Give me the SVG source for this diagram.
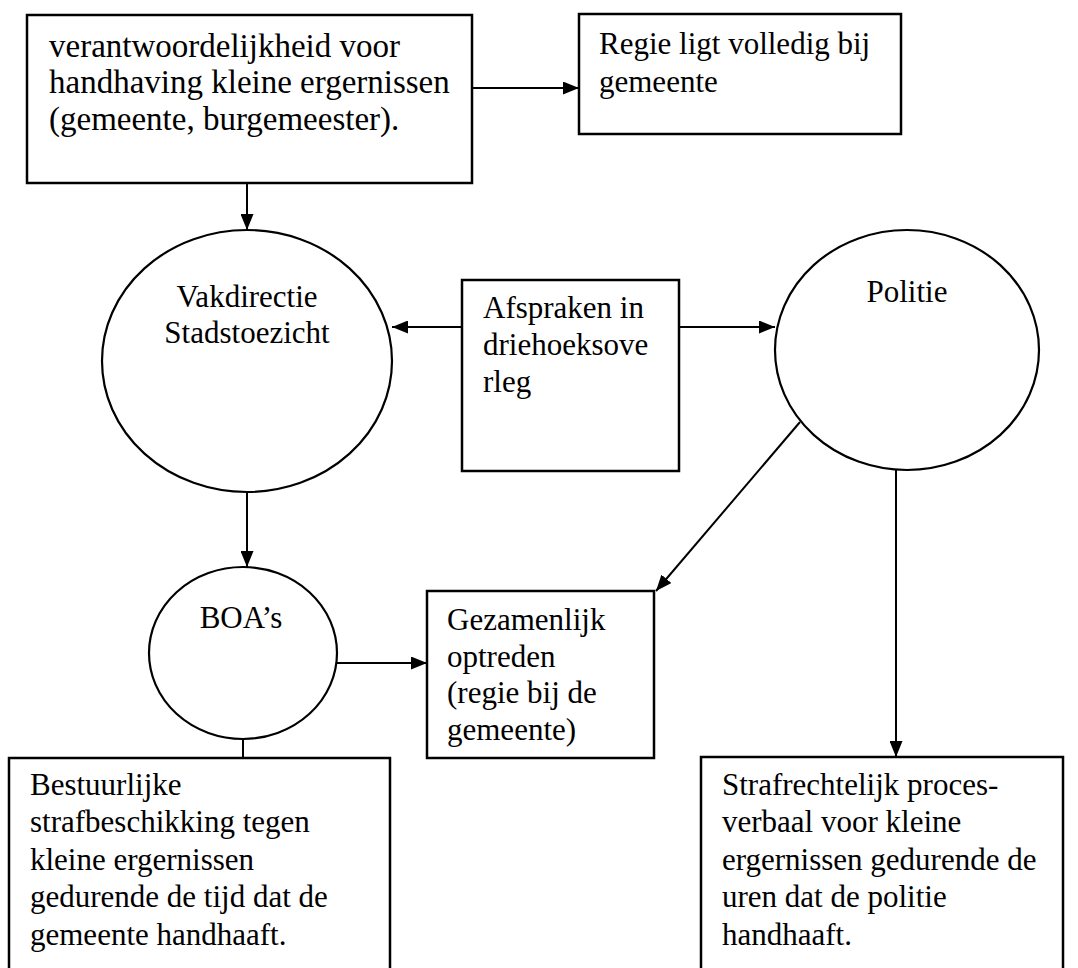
<svg xmlns="http://www.w3.org/2000/svg" width="1078" height="968" viewBox="0 0 1078 968">
<style>
.box{fill:#fff;stroke:#000;stroke-width:2.5}
.ell{fill:#fff;stroke:#000;stroke-width:2.2}
.t{font-family:"Liberation Serif","Times New Roman",serif;font-size:31px;fill:#000}
.big{font-size:33px}
.c{text-anchor:middle}
.ln{stroke:#000;stroke-width:2;fill:none}
</style>
<defs>
<marker id="ah" viewBox="0 0 16 13" refX="16" refY="6.5" markerWidth="16" markerHeight="13" markerUnits="userSpaceOnUse" orient="auto">
<path d="M0,0 L16,6.5 L0,13 Z" fill="#000"/>
</marker>
</defs>
<rect width="1078" height="968" fill="#fff"/>
<g id="connectors">
<line class="ln" x1="472" y1="88" x2="579" y2="88" marker-end="url(#ah)"/>
<line class="ln" x1="247" y1="183" x2="247" y2="230" marker-end="url(#ah)"/>
<line class="ln" x1="462" y1="327" x2="392" y2="327" marker-end="url(#ah)"/>
<line class="ln" x1="679" y1="327" x2="775" y2="327" marker-end="url(#ah)"/>
<line class="ln" x1="247" y1="492" x2="247" y2="567" marker-end="url(#ah)"/>
<line class="ln" x1="800" y1="422" x2="656" y2="591" marker-end="url(#ah)"/>
<line class="ln" x1="337" y1="663" x2="427" y2="663" marker-end="url(#ah)"/>
<line class="ln" x1="896" y1="470" x2="896" y2="757" marker-end="url(#ah)"/>
<line class="ln" x1="243" y1="739" x2="243" y2="758"/>
</g>
<g id="n-verantwoordelijkheid">
<rect class="box" x="27" y="15" width="445" height="168"/>
<text class="t big" x="49" y="57">verantwoordelijkheid voor</text>
<text class="t big" x="49" y="93">handhaving kleine ergernissen</text>
<text class="t big" x="49" y="130">(gemeente, burgemeester).</text>
</g>
<g id="n-regie">
<rect class="box" x="579" y="14" width="322" height="120"/>
<text class="t" x="599" y="54">Regie ligt volledig bij</text>
<text class="t" x="599" y="92">gemeente</text>
</g>
<g id="n-vakdirectie">
<ellipse class="ell" cx="247" cy="361" rx="145" ry="131"/>
<text class="t c" x="247" y="307">Vakdirectie</text>
<text class="t c" x="247" y="343">Stadstoezicht</text>
</g>
<g id="n-afspraken">
<rect class="box" x="462" y="280" width="217" height="191"/>
<text class="t" x="483" y="318">Afspraken in</text>
<text class="t" x="483" y="355">driehoeksove</text>
<text class="t" x="483" y="392">rleg</text>
</g>
<g id="n-politie">
<ellipse class="ell" cx="907" cy="350" rx="132" ry="120"/>
<text class="t c" x="907" y="302">Politie</text>
</g>
<g id="n-boa">
<ellipse class="ell" cx="243" cy="653" rx="94" ry="86"/>
<text class="t c" x="241" y="628">BOA’s</text>
</g>
<g id="n-gezamenlijk">
<rect class="box" x="427" y="591" width="227" height="167"/>
<text class="t" x="447" y="630">Gezamenlijk</text>
<text class="t" x="447" y="667">optreden</text>
<text class="t" x="447" y="703">(regie bij de</text>
<text class="t" x="447" y="740">gemeente)</text>
</g>
<g id="n-bestuurlijke">
<rect class="box" x="9" y="758" width="381" height="230"/>
<text class="t" x="30" y="795">Bestuurlijke</text>
<text class="t" x="30" y="832">strafbeschikking tegen</text>
<text class="t" x="30" y="870">kleine ergernissen</text>
<text class="t" x="30" y="907">gedurende de tijd dat de</text>
<text class="t" x="30" y="945">gemeente handhaaft.</text>
</g>
<g id="n-strafrechtelijk">
<rect class="box" x="701" y="757" width="362" height="230"/>
<text class="t" x="722" y="795">Strafrechtelijk proces-</text>
<text class="t" x="722" y="832">verbaal voor kleine</text>
<text class="t" x="722" y="870">ergernissen gedurende de</text>
<text class="t" x="722" y="907">uren dat de politie</text>
<text class="t" x="722" y="945">handhaaft.</text>
</g>
</svg>
